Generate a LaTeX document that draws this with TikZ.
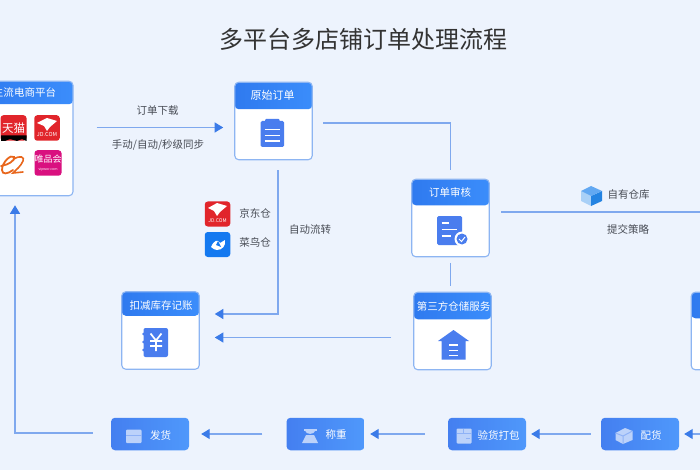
\documentclass[tikz,border=0pt]{standalone}
\usepackage{fontspec}
\usepackage{xcolor}
\setmainfont{Noto Sans CJK SC}
\usetikzlibrary{arrows.meta,calc,positioning}
\definecolor{pagebg}{HTML}{EDF3FD}
\definecolor{cardedge}{HTML}{8DB5F2}
\definecolor{headleft}{HTML}{2F7AEF}
\definecolor{headright}{HTML}{3B8DFB}
\definecolor{btnleft}{HTML}{447FF0}
\definecolor{btnright}{HTML}{4F98FB}
\definecolor{iconblue}{HTML}{4A7DEE}
\definecolor{iconpale}{HTML}{BCD2FA}
\definecolor{linkblue}{HTML}{7FA8EE}
\definecolor{tipblue}{HTML}{3B7BE8}
\definecolor{labelgray}{HTML}{484C55}
\definecolor{titlegray}{HTML}{333333}
\definecolor{logored}{HTML}{E1252B}
\definecolor{logopink}{HTML}{D9107F}
\definecolor{logoorange}{HTML}{E8661C}
\definecolor{logoblue}{HTML}{1479F0}
\definecolor{cubetop}{HTML}{62A8F2}
\definecolor{cuberight}{HTML}{2483E2}
\definecolor{cubeleft}{HTML}{A9D0F7}
\begin{document}
\begin{tikzpicture}[x=1pt,y=-1pt,font=\fontsize{10.5}{12}\selectfont,text=labelgray]
  \tikzset{flowcard/.style={draw=cardedge, line width=1.1pt, fill=white, rounded corners=4pt, minimum width=77.5pt, minimum height=77.5pt, inner sep=0pt, path picture={\shade[left color=headleft, right color=headright] (path picture bounding box.north west) rectangle ([yshift=-#1]path picture bounding box.north east);}}}
  \tikzset{cardtitle/.style={text=white, font=\fontsize{10.5}{12}\selectfont, inner sep=0pt}}
  \tikzset{flowbtn/.style={left color=btnleft, right color=btnright, rounded corners=4pt, minimum width=78pt, minimum height=32.5pt, inner sep=0pt}}
  \tikzset{btnlabel/.style={text=white, font=\fontsize{10.5}{12}\selectfont, inner sep=0pt}}
  \tikzset{flowlabel/.style={inner sep=0pt}}
  \tikzset{logobox/.style={rounded corners=3pt, minimum width=25.5pt, minimum height=25.5pt, inner sep=0pt, text=white, align=center}}
  \tikzset{flowline/.style={draw=linkblue, line width=1.1pt}}
  \tikzset{flowarrow/.style={flowline, -{Triangle[length=8.5pt,width=10pt,color=tipblue]}}}
  \fill[pagebg] (0,0) rectangle (700,470);
  \useasboundingbox (0,0) rectangle (700,470);

  \node[font=\fontsize{24}{28}\selectfont, text=titlegray, inner sep=0pt] (title) at (363,39) {多平台多店铺订单处理流程};

  % cards
  \node[flowcard=23pt, minimum width=97pt, minimum height=114.5pt] (platforms) at (24.5,138.5) {};
  \node[flowcard=27pt] (origin) at (273.5,121) {};
  \node[flowcard=24pt] (ledger) at (160.5,330.5) {};
  \node[flowcard=26pt] (audit) at (450.5,218) {};
  \node[flowcard=27pt] (thirdparty) at (452.5,331) {};
  \node[flowcard=26pt] (ownstock) at (730,331) {};
  \node[cardtitle] (platformstitle) at (24.5,92.5) {主流电商平台};
  \node[cardtitle, font=\fontsize{11}{12}\selectfont] (origintitle) at (272.5,95.5) {原始订单};
  \node[cardtitle] (ledgertitle) at (161,306) {扣减库存记账};
  \node[cardtitle] (audittitle) at (450,192) {订单审核};
  \node[cardtitle] (thirdpartytitle) at (453.5,306) {第三方仓储服务};

  % bottom row
  \node[flowbtn] (ship) at (150,434) {};
  \node[flowbtn] (weigh) at (325.5,434) {};
  \node[flowbtn] (pack) at (487,434) {};
  \node[flowbtn] (pick) at (640,434) {};
  \node[btnlabel] (shiplabel) at (160.5,435) {发货};
  \node[btnlabel] (weighlabel) at (336,435) {称重};
  \node[btnlabel] (packlabel) at (498.5,435) {验货打包};
  \node[btnlabel] (picklabel) at (651,435) {配货};

  % logos
  \node[logobox, fill=logored, font=\fontsize{11.5}{12}\selectfont, minimum width=26pt, anchor=north, yshift=0pt] (tmall) at (13.5,115) {天猫};
  \fill[black] (1,135.5) -- (26.5,135.5) -- (26.5,141) -- (22,139) -- (17,141) -- (10,139) -- (5,141) -- (1,141) -- cycle;
  \node[logobox, fill=logored, font=\fontsize{5.5}{6}\selectfont] (jdshop) at (47,128) {\\[11pt]JD.COM};
  \fill[white] (37,123) -- (47,118) -- (57,121) -- (50,127) -- (47,131) -- (44,126) -- cycle;
  \draw[logoorange, line width=1.8pt, line cap=round] (1,166) .. controls (8,165) and (16,160) .. (14,157) .. controls (11,154) and (2,162) .. (2,170) .. controls (2,175) and (8,174) .. (13,170);
  \draw[logoorange, line width=1.6pt, line cap=round] (14,159) .. controls (20,155) and (25,157) .. (23,161) .. controls (21,166) and (16,170) .. (13,173) -- (23,172);
  \node[logobox, fill=logopink, font=\fontsize{9}{10}\selectfont] (vipshop) at (48,163) {唯品会\\[-2pt]{\fontsize{3.5}{4}\selectfont vipwor.com}};
  \node[logobox, fill=logored, font=\fontsize{5}{6}\selectfont, minimum height=25pt] (jdstore) at (217.5,214) {\\[11pt]JD.COM};
  \fill[white] (208,208) -- (217,203) -- (227,206) -- (220,212) -- (217,216) -- (214,211) -- cycle;
  \node[logobox, fill=logoblue, minimum height=25pt] (cainiao) at (217.5,244.5) {};
  \fill[white] (211,247) .. controls (214,240) and (218,239) .. (220,243) -- (225,240) .. controls (226,246) and (222,250) .. (217,250) .. controls (215,250) and (213,249) .. (211,247) -- cycle;
  \fill[logoblue] (218,241) -- (221,247) -- (216,245) -- cycle;

  % cube
  \fill[cubeleft] (581,191) -- (591,196) -- (591,206) -- (581,201) -- cycle;
  \fill[cuberight] (591,196) -- (602,191) -- (602,201) -- (591,206) -- cycle;
  \fill[cubetop] (581,191) -- (591,186) -- (602,191) -- (591,196) -- cycle;

  % labels
  \node[flowlabel] (download) at (157.5,111) {订单下载};
  \node[flowlabel] (syncmode) at (158,145) {手动/自动/秒级同步};
  \node[flowlabel] (jdlabel) at (255,213) {京东仓};
  \node[flowlabel] (cainiaolabel) at (255,242.5) {菜鸟仓};
  \node[flowlabel] (autoflow) at (310,230) {自动流转};
  \node[flowlabel] (ownlabel) at (628.5,194.5) {自有仓库};
  \node[flowlabel] (policy) at (628,229) {提交策略};

  % card icons
  \fill[iconblue, rounded corners=1.5pt] (260.5,121) rectangle (284,147);
  \fill[iconblue, rounded corners=1pt] (265,119) rectangle (279.5,124);
  \draw[white, line width=1.5pt] (264.5,129.5) -- (280,129.5) (264.5,135.5) -- (280,135.5) (264.5,141) -- (280,141);

  \fill[iconblue, rounded corners=2pt] (143.5,328) rectangle (168,357);
  \fill[iconblue] (143.5,334) circle (1.4) (143.5,342) circle (1.4) (143.5,350) circle (1.4);
  \draw[white, line width=1.7pt] (150.5,333.5) -- (156,340.5) -- (161.5,333.5) (156,340.5) -- (156,351) (150,341) -- (162,341) (150,346) -- (162,346);

  \fill[iconblue, rounded corners=1.5pt] (437,216) rectangle (462,245);
  \draw[white, line width=1.3pt] (441.5,223) -- (449,223) (441.5,229.5) -- (457,229.5) (441.5,236) -- (451,236);
  \fill[white] (462,239) circle (7.5);
  \fill[iconblue] (462,239) circle (5.5);
  \draw[white, line width=1pt] (459,239) -- (461.5,241.5) -- (465,237);

  \fill[iconblue] (453.5,330) -- (469,341) -- (465.5,341) -- (465.5,359.5) -- (441.5,359.5) -- (441.5,341) -- (438,341) -- cycle;
  \draw[white, line width=1.3pt] (449,345) -- (458,345) (449,350.5) -- (458,350.5) (449,355.5) -- (458,355.5);

  % button icons
  \fill[iconpale, rounded corners=1pt] (126,429.5) rectangle (141.5,443);
  \draw[btnleft!60!white, line width=1pt] (126,435.5) -- (141.5,435.5);
  \fill[iconpale] (306,435) -- (314,435) -- (318,443) -- (302,443) -- cycle;
  \fill[iconpale] (303.5,429) rectangle (317,430.5);
  \fill[iconpale] (305,430.5) .. controls (306,435) and (314,435) .. (315.5,430.5) -- cycle;
  \fill[iconpale, rounded corners=1pt] (456.5,428.5) rectangle (471.5,443.5);
  \draw[btnleft!60!white, line width=1pt] (456.5,433) -- (471.5,433) (463.5,428.5) -- (463.5,433) (466,438.5) -- (470,438.5);
  \fill[iconpale] (615.5,433) -- (625,428) -- (632.5,431) -- (632.5,440) -- (623,444) -- (615.5,440) -- cycle;
  \draw[btnleft!60!white, line width=1pt] (615.5,433) -- (623,436) -- (632.5,431) (623,436) -- (623,444);

  % free ends of the connectors
  \coordinate (downloadin) at ([yshift=-6.5pt]origin.west);
  \coordinate (ledgerin) at ([yshift=16.5pt]ledger.east);
  \coordinate (thirdout) at ([yshift=-6.5pt]thirdparty.west);
  \coordinate (auditout) at (700,212);
  \coordinate (pickin) at (700,434);

  % connectors
  \draw[flowarrow, shorten <=23pt, shorten >=11pt] (platforms.east |- downloadin) -- (downloadin);
  \draw[flowline, shorten <=10.5pt, shorten >=9pt] (origin.east |- 0,123) -| (audit.north);
  \draw[flowarrow, shorten <=10pt, shorten >=15pt] (origin.south -| 278,0) |- (ledgerin);
  \draw[flowarrow, shorten <=22pt, shorten >=15pt] (thirdout) -- (ledger.east |- thirdout);
  \draw[flowline, shorten <=5.5pt, shorten >=6pt] (audit.south) -- (thirdparty.north -| audit.south);
  \draw[flowline, shorten <=11.5pt] (audit.east |- auditout) -- (auditout);
  \draw[flowarrow, shorten >=5pt] (pickin) -- (pick.east);
  \draw[flowarrow, shorten <=10pt, shorten >=5pt] (pick.west) -- (pack.east);
  \draw[flowarrow, shorten <=23pt, shorten >=5.5pt] (pack.west) -- (weigh.east);
  \draw[flowarrow, shorten <=24pt, shorten >=12pt] (weigh.west) -- (ship.east);
  \draw[flowarrow, shorten <=18pt, shorten >=9pt] (ship.west |- 0,433) -| (platforms.south -| 15,0);
\end{tikzpicture}
\end{document}
